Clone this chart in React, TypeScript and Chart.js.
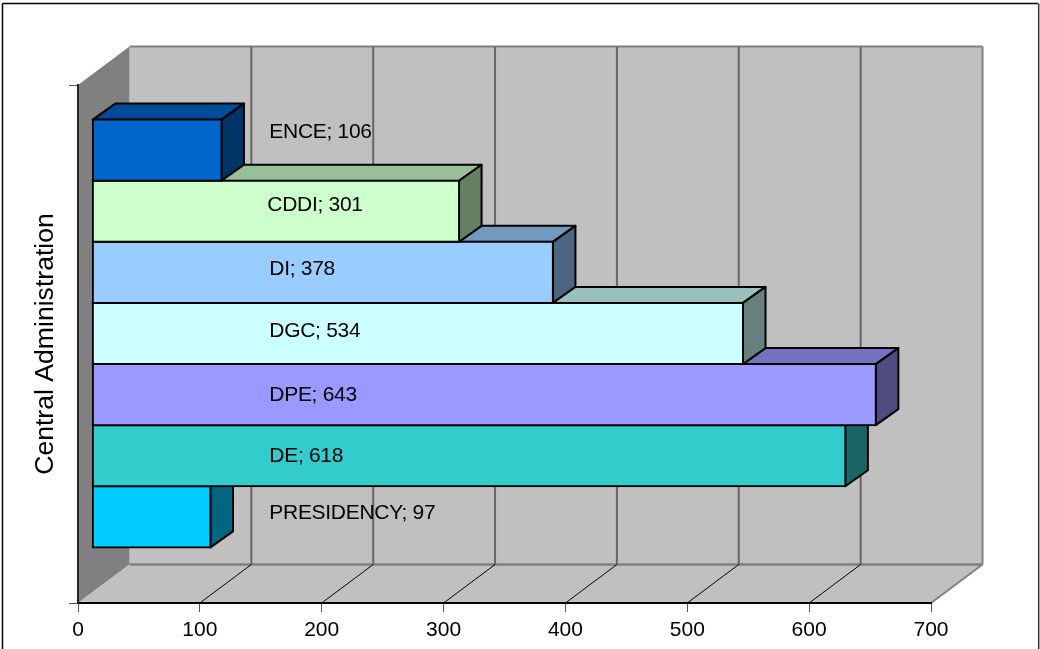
import { useEffect, useRef } from "react";
import { Chart, registerables } from "chart.js";

Chart.register(...registerables);

const categories = ["Central Administration"];
// Top-most bar first: later datasets paint underneath earlier ones.
const seriesNames = ["ENCE", "CDDI", "DI", "DGC", "DPE", "DE", "PRESIDENCY"];
const seriesValues = [106, 301, 378, 534, 643, 618, 97];
const faceColors = ["#0066CC", "#CCFFCC", "#99CCFF", "#CCFFFF", "#9999FF", "#33CCCC", "#00CCFF"];
const topColors = ["#004C99", "#99BF99", "#7399BF", "#99BFBF", "#7373BF", "#269999", "#0099BF"];
const sideColors = ["#003366", "#668066", "#4D6680", "#668080", "#4D4D80", "#1A6666", "#006680"];
const labelNudgeX = [0, -2, 0, 0, 0, 0, 0];
const labelNudgeY = [-17.5, -6, -3, -2, 1, 0, -4];
const xTicks = [0, 100, 200, 300, 400, 500, 600, 700];

const FONT = '"Liberation Sans", Arial, sans-serif';
// Depth vectors of the pseudo-3D box and of each bar.
const BOX = { dx: 51.5, dy: 38.5 };
const BAR = { dx: 22.5, dy: 16, shiftX: 14.3, shiftY: -10.5 };

const polygon = (ctx: CanvasRenderingContext2D, pts: number[][], fill: string, stroke?: string, width = 1) => {
  ctx.beginPath();
  pts.forEach(([x, y], i) => (i ? ctx.lineTo(x, y) : ctx.moveTo(x, y)));
  ctx.closePath();
  ctx.fillStyle = fill;
  ctx.fill();
  if (stroke) {
    ctx.strokeStyle = stroke;
    ctx.lineWidth = width;
    ctx.lineJoin = "round";
    ctx.stroke();
  }
};

const line = (ctx: CanvasRenderingContext2D, x1: number, y1: number, x2: number, y2: number, color: string, width: number) => {
  ctx.beginPath();
  ctx.moveTo(x1, y1);
  ctx.lineTo(x2, y2);
  ctx.strokeStyle = color;
  ctx.lineWidth = width;
  ctx.stroke();
};

// Frame, walls and floor behind the scales.
const boxPlugin = {
  id: "box3d",
  beforeDraw(chart: any) {
    const { ctx, chartArea: a, scales } = chart;
    const { dx, dy } = BOX;
    ctx.save();
    line(ctx, 2.5, 3.5, 1038, 3.5, "#000", 1.5);
    line(ctx, 2.5, 3.5, 2.5, 649, "#000", 1.5);
    line(ctx, 1038.7, 3.5, 1038.7, 649, "#333", 1.5);

    polygon(ctx, [[a.left + dx, a.top - dy], [a.right + dx, a.top - dy], [a.right + dx, a.bottom - dy], [a.left + dx, a.bottom - dy]], "#C0C0C0");
    polygon(ctx, [[a.left, a.top], [a.left + dx, a.top - dy], [a.left + dx, a.bottom - dy], [a.left, a.bottom]], "#808080");
    polygon(ctx, [[a.left, a.bottom], [a.left + dx, a.bottom - dy], [a.right + dx, a.bottom - dy], [a.right, a.bottom]], "#C0C0C0");

    line(ctx, a.left + dx, a.top - dy, a.right + dx, a.top - dy, "#808080", 2);
    line(ctx, a.right + dx, a.top - dy, a.right + dx, a.bottom - dy, "#808080", 2);
    line(ctx, a.left + dx, a.bottom - dy, a.right + dx, a.bottom - dy, "#808080", 2.5);
    line(ctx, a.right, a.bottom, a.right + dx, a.bottom - dy, "#808080", 2);

    for (const t of xTicks.slice(1, -1)) {
      const px = scales.x.getPixelForValue(t);
      line(ctx, px + dx, a.top - dy, px + dx, a.bottom - dy, "#666", 2);
      line(ctx, px, a.bottom, px + dx, a.bottom - dy, "#000", 1);
    }
    ctx.restore();
  },
};

// Bars are pushed into the box; their top and end faces go under the front face.
const barPlugin = {
  id: "bar3d",
  beforeDatasetDraw(chart: any, args: any) {
    const { ctx } = chart;
    const el = args.meta.data[0];
    const i = args.index;
    const { dx, dy } = BAR;
    ctx.save();
    ctx.translate(BAR.shiftX, BAR.shiftY);
    const top = el.y - el.height / 2;
    const bottom = el.y + el.height / 2;
    const left = el.base;
    const right = el.x;
    polygon(ctx, [[left, top], [left + dx, top - dy], [right + dx, top - dy], [right, top]], topColors[i], "#000", 2);
    polygon(ctx, [[right, top], [right + dx, top - dy], [right + dx, bottom - dy], [right, bottom]], sideColors[i], "#000", 2);
  },
  afterDatasetDraw(chart: any) {
    chart.ctx.restore();
  },
  afterDatasetsDraw(chart: any) {
    const { ctx, scales } = chart;
    ctx.save();
    ctx.font = `21px ${FONT}`;
    ctx.fillStyle = "#000";
    ctx.textAlign = "left";
    ctx.textBaseline = "middle";
    ctx.letterSpacing = "-0.3px";
    const textX = scales.x.getPixelForValue(157);
    seriesNames.forEach((name, i) => {
      const el = chart.getDatasetMeta(i).data[0];
      ctx.fillText(`${name}; ${seriesValues[i]}`, textX + labelNudgeX[i], el.y + BAR.shiftY + labelNudgeY[i]);
    });
    ctx.restore();
  },
};

export default function App() {
  const ref = useRef<HTMLCanvasElement>(null);

  useEffect(() => {
    const chart = new Chart(ref.current!, {
      type: "bar",
      data: {
        labels: categories,
        datasets: seriesNames.map((name, i) => ({
          label: name,
          data: [seriesValues[i]],
          backgroundColor: faceColors[i],
          borderColor: "#000",
          borderWidth: 2,
          borderSkipped: false,
          inflateAmount: 1,
          clip: false as any,
          categoryPercentage: 0.826,
          barPercentage: 1,
        })),
      },
      options: {
        indexAxis: "y",
        responsive: false,
        animation: false,
        layout: { padding: { left: 30, right: 109, top: 85, bottom: 0 } },
        plugins: { legend: { display: false }, tooltip: { enabled: false } },
        scales: {
          x: {
            min: 0,
            max: 700,
            afterFit: (s: any) => { s.height = 46; },
            afterBuildTicks: (s: any) => { s.ticks = xTicks.map((value) => ({ value })); },
            grid: { drawOnChartArea: false, tickLength: 9, color: "#555", tickWidth: 1 },
            border: { color: "#000", width: 2 },
            ticks: { color: "#000", font: { family: FONT, size: 21 }, padding: 6, maxRotation: 0, autoSkip: false },
          },
          y: {
            afterFit: (s: any) => { s.width = 48; },
            ticks: { display: false },
            grid: { drawOnChartArea: false, tickLength: 9, color: "#555", tickWidth: 1 },
            border: { color: "#222", width: 2 },
            title: {
              display: true,
              text: categories[0],
              color: "#000",
              font: { family: FONT, size: 26.6 },
              padding: 0,
            },
          },
        },
      },
      plugins: [boxPlugin, barPlugin],
    } as any);
    return () => chart.destroy();
  }, []);

  return (
    <canvas
      ref={ref}
      width={1040}
      height={649}
      style={{ position: "absolute", left: 0, top: 0, display: "block" }}
    />
  );
}
